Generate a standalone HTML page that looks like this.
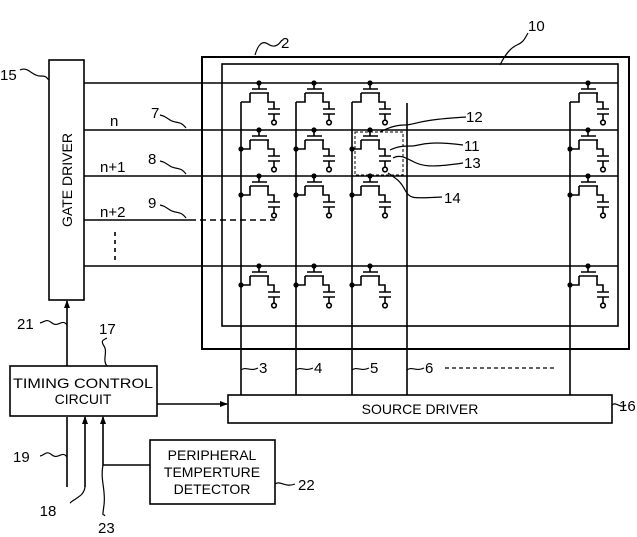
<!DOCTYPE html>
<html><head><meta charset="utf-8"><style>
html,body{margin:0;padding:0;background:#fff}
svg{display:block}
text{font-family:"Liberation Sans",sans-serif;fill:#000}
</style></head><body>
<svg width="637" height="537" viewBox="0 0 637 537" xmlns="http://www.w3.org/2000/svg">
<defs>
<marker id="ar" markerWidth="8" markerHeight="8" refX="7" refY="4" orient="auto" markerUnits="userSpaceOnUse"><path d="M0,1 L8,4 L0,7z" fill="#000"/></marker>
<g id="cell" fill="none" stroke="#000" stroke-width="1.6">
<circle cx="18" cy="0" r="2.6" fill="#000" stroke="none"/>
<path d="M18,0V6M11,6H26M9,10H28M9,10V19H0M27,10V19H33V26M27,26H39M27,31H39M33,31V37"/>
<circle cx="33" cy="39.5" r="2.3" fill="#fff"/>
</g>
</defs>
<g fill="none" stroke="#000" stroke-width="1.6">
<rect x="202" y="57" width="427" height="292" stroke-width="2"/>
<rect x="222" y="64" width="396" height="262"/>
<rect x="49" y="60" width="35" height="240"/>
<!-- gate lines -->
<path d="M84,83H618M84,130H618M84,176H618M84,266H618M84,220H190"/>
<path d="M190,220H275" stroke-dasharray="6,4"/>
<path d="M115,232V262" stroke-dasharray="4,4"/>
<!-- column lines -->
<path d="M241,102V395M296,102V395M352,102V395M407,103V395M570,102V395"/>
<!-- dashed pixel box -->
<rect x="355" y="132" width="48" height="43" stroke-dasharray="3,2" stroke-width="1"/>
<!-- blocks -->
<rect x="10" y="366" width="147" height="50"/>
<rect x="228" y="395" width="384" height="28"/>
<rect x="150" y="440" width="125" height="64"/>
<path d="M67,366V301" marker-end="url(#ar)"/>
<path d="M157,404H227" marker-end="url(#ar)"/>
<path d="M67,487V417M85,487V417" marker-end="url(#ar)"/>
<path d="M150,465H103V417" marker-end="url(#ar)"/>
<path d="M445,368H555" stroke-dasharray="4,3" stroke-width="1.2"/>
<!-- leaders -->
<g stroke-width="1.2">
<path d="M255,55C258,45 262,40 268,44S278,46 282,40"/>
<path d="M500,65C505,55 510,48 517,45S525,38 528,33"/>
<path d="M20,70C28,66 32,76 40,76S46,78 49,80"/>
<path d="M186,128C180,120 176,124 170,120S164,116 160,115"/>
<path d="M186,174C180,166 176,170 170,166S164,162 160,161"/>
<path d="M186,218C180,210 176,214 170,210S164,206 160,205"/>
<path d="M380,132C388,128 395,125 405,125S415,120 466,117"/>
<path d="M390,150C398,146 405,146 412,146S425,140 463,145"/>
<path d="M393,158C400,154 406,158 414,162S430,168 463,163"/>
<path d="M388,173C395,178 400,180 405,190S415,198 442,197"/>
<path d="M241,370C246,366 250,372 258,368"/>
<path d="M296,370C301,366 305,372 313,368"/>
<path d="M352,370C357,366 361,372 369,368"/>
<path d="M407,370C412,366 416,372 424,368"/>
<path d="M612,405C616,401 620,409 626,405"/>
<path d="M275,484C280,480 285,488 295,484"/>
<path d="M67,325C62,318 58,328 52,323S45,322 40,323"/>
<path d="M107,366C102,360 108,352 104,346S104,340 107,338"/>
<path d="M67,457C62,450 58,460 52,455S45,455 40,456"/>
<path d="M85,487C84,494 80,496 74,500S72,502 70,503"/>
<path d="M103,465C100,480 106,490 104,505S103,512 105,516"/>
</g>
</g>
<!-- cells -->
<use href="#cell" x="241" y="83"/><use href="#cell" x="296" y="83"/><use href="#cell" x="352" y="83"/><use href="#cell" x="570" y="83"/>
<use href="#cell" x="241" y="130"/><use href="#cell" x="296" y="130"/><use href="#cell" x="352" y="130"/><use href="#cell" x="570" y="130"/>
<use href="#cell" x="241" y="176"/><use href="#cell" x="296" y="176"/><use href="#cell" x="352" y="176"/><use href="#cell" x="570" y="176"/>
<use href="#cell" x="241" y="266"/><use href="#cell" x="296" y="266"/><use href="#cell" x="352" y="266"/><use href="#cell" x="570" y="266"/>
<g fill="#000">
<circle cx="241" cy="149" r="2.6"/><circle cx="296" cy="149" r="2.6"/><circle cx="352" cy="149" r="2.6"/><circle cx="570" cy="149" r="2.6"/>
<circle cx="241" cy="195" r="2.6"/><circle cx="296" cy="195" r="2.6"/><circle cx="352" cy="195" r="2.6"/><circle cx="570" cy="195" r="2.6"/>
<circle cx="241" cy="285" r="2.6"/><circle cx="296" cy="285" r="2.6"/><circle cx="352" cy="285" r="2.6"/><circle cx="570" cy="285" r="2.6"/>
</g>
<g font-size="15">
<text x="281" y="48">2</text>
<text x="528" y="31">10</text>
<text x="0" y="80">15</text>
<text x="110" y="126">n</text>
<text x="151" y="118">7</text>
<text x="100" y="172">n+1</text>
<text x="148" y="164">8</text>
<text x="100" y="217">n+2</text>
<text x="148" y="208">9</text>
<text x="466" y="122">12</text>
<text x="464" y="151">11</text>
<text x="464" y="168">13</text>
<text x="444" y="203">14</text>
<text x="259" y="373">3</text>
<text x="314" y="373">4</text>
<text x="370" y="373">5</text>
<text x="425" y="373">6</text>
<text x="619" y="411">16</text>
<text x="298" y="490">22</text>
<text x="17" y="329">21</text>
<text x="99" y="334">17</text>
<text x="13" y="462">19</text>
<text x="48" y="516" text-anchor="middle">18</text>
<text x="98" y="533">23</text>
</g>
<g font-size="14" text-anchor="middle">
<text x="83" y="388" textLength="140" lengthAdjust="spacingAndGlyphs">TIMING CONTROL</text>
<text x="83" y="404">CIRCUIT</text>
<text x="420" y="414">SOURCE DRIVER</text>
<text x="212" y="460">PERIPHERAL</text>
<text x="212" y="477">TEMPERTURE</text>
<text x="212" y="494">DETECTOR</text>
<text transform="translate(72,180) rotate(-90)">GATE DRIVER</text>
</g>
</svg>
</body></html>
